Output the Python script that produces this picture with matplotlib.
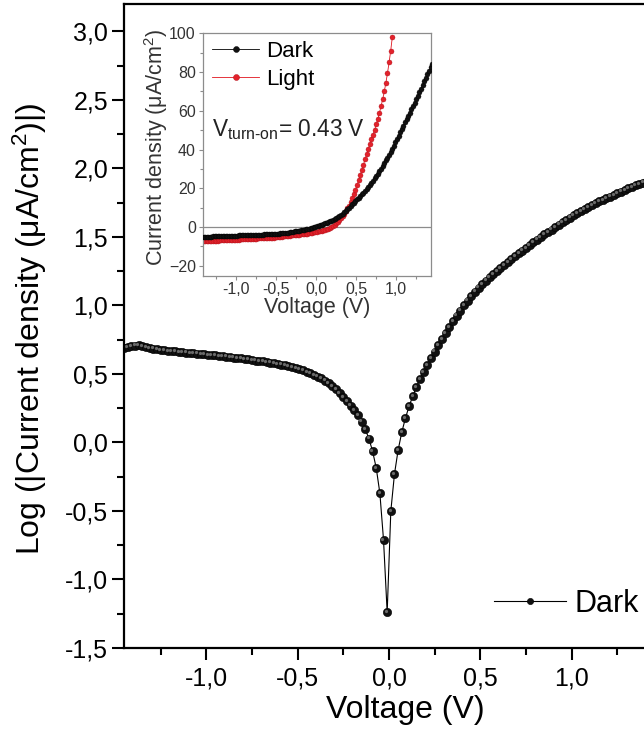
import matplotlib
matplotlib.use('Agg')
import matplotlib.pyplot as plt
import matplotlib.transforms as mtransforms
import numpy as np
from matplotlib.ticker import MultipleLocator, FuncFormatter

plt.rcParams['font.family'] = ['Liberation Sans', 'DejaVu Sans']
plt.rcParams['mathtext.fontset'] = 'custom'
plt.rcParams['mathtext.rm'] = 'Liberation Sans'
plt.rcParams['mathtext.it'] = 'Liberation Sans:italic'
plt.rcParams['mathtext.bf'] = 'Liberation Sans:bold'

# voltage sweep (V)
voltage = [
    -1.45, -1.43, -1.41, -1.39, -1.37, -1.35, -1.33, -1.31, -1.29, -1.27,
    -1.25, -1.23, -1.21, -1.19, -1.17, -1.15, -1.13, -1.11, -1.09, -1.07,
    -1.05, -1.03, -1.01, -0.99, -0.97, -0.95, -0.93, -0.91, -0.89, -0.87,
    -0.85, -0.83, -0.81, -0.79, -0.77, -0.75, -0.73, -0.71, -0.69, -0.67,
    -0.65, -0.63, -0.61, -0.59, -0.57, -0.55, -0.53, -0.51, -0.49, -0.47,
    -0.45, -0.43, -0.41, -0.39, -0.37, -0.35, -0.33, -0.31, -0.29, -0.27,
    -0.25, -0.23, -0.21, -0.19, -0.17, -0.15, -0.13, -0.11, -0.09, -0.07,
    -0.05, -0.03, -0.01,
    0.01, 0.03, 0.05, 0.07, 0.09, 0.11, 0.13, 0.15, 0.17, 0.19,
    0.21, 0.23, 0.25, 0.27, 0.29, 0.31, 0.33, 0.35, 0.37, 0.39,
    0.41, 0.43, 0.45, 0.47, 0.49, 0.51, 0.53, 0.55, 0.57, 0.59,
    0.61, 0.63, 0.65, 0.67, 0.69, 0.71, 0.73, 0.75, 0.77, 0.79,
    0.81, 0.83, 0.85, 0.87, 0.89, 0.91, 0.93, 0.95, 0.97, 0.99,
    1.01, 1.03, 1.05, 1.07, 1.09, 1.11, 1.13, 1.15, 1.17, 1.19,
    1.21, 1.23, 1.25, 1.27, 1.29, 1.31, 1.33, 1.35, 1.37, 1.39,
    1.41, 1.43, 1.45,
]

# log10(|J|) of the dark curve, J in uA/cm2
dark_log = [
    0.690, 0.697, 0.703, 0.707, 0.708, 0.705, 0.698, 0.690, 0.684, 0.679,
    0.675, 0.672, 0.669, 0.667, 0.664, 0.661, 0.658, 0.656, 0.653, 0.651,
    0.648, 0.646, 0.643, 0.640, 0.638, 0.635, 0.632, 0.629, 0.626, 0.623,
    0.620, 0.617, 0.613, 0.610, 0.606, 0.602, 0.598, 0.595, 0.591, 0.587,
    0.582, 0.578, 0.573, 0.568, 0.562, 0.556, 0.549, 0.542, 0.534, 0.526,
    0.516, 0.506, 0.494, 0.481, 0.467, 0.451, 0.432, 0.411, 0.387, 0.360,
    0.331, 0.300, 0.268, 0.234, 0.197, 0.153, 0.097, 0.028, -0.063, -0.185,
    -0.370, -0.710, -1.240,
    -0.500, -0.230, -0.055, 0.075, 0.178, 0.265, 0.338, 0.405, 0.465, 0.515,
    0.565, 0.615, 0.663, 0.710, 0.755, 0.800, 0.843, 0.885, 0.925, 0.963,
    1.000, 1.035, 1.068, 1.100, 1.130, 1.156, 1.181, 1.205, 1.228, 1.250,
    1.272, 1.294, 1.316, 1.338, 1.359, 1.380, 1.400, 1.420, 1.440, 1.460,
    1.480, 1.499, 1.518, 1.536, 1.554, 1.572, 1.590, 1.607, 1.624, 1.641,
    1.658, 1.674, 1.690, 1.705, 1.719, 1.733, 1.746, 1.759, 1.771, 1.783,
    1.795, 1.807, 1.819, 1.831, 1.843, 1.854, 1.865, 1.876, 1.887, 1.897,
    1.907, 1.916, 1.925,
]

# light curve current density (uA/cm2), same sweep up to 0.95 V
light_j = [
    -7.40, -7.36, -7.32, -7.28, -7.24, -7.20, -7.16, -7.12, -7.08, -7.04,
    -7.00, -6.96, -6.92, -6.88, -6.84, -6.80, -6.76, -6.72, -6.68, -6.64,
    -6.60, -6.56, -6.52, -6.48, -6.44, -6.40, -6.36, -6.32, -6.28, -6.24,
    -6.20, -6.15, -6.10, -6.05, -6.00, -5.95, -5.90, -5.85, -5.80, -5.75,
    -5.70, -5.65, -5.60, -5.55, -5.50, -5.45, -5.40, -5.35, -5.25, -5.15,
    -5.05, -4.95, -4.85, -4.75, -4.65, -4.55, -4.45, -4.35, -4.25, -4.15,
    -4.05, -3.95, -3.85, -3.75, -3.65, -3.55, -3.45, -3.35, -3.20, -3.05,
    -2.90, -2.75, -2.60, -2.40, -2.20, -2.00, -1.80, -1.60, -1.40, -1.10,
    -0.80, -0.40, 0.10, 0.70, 1.30, 2.00, 2.70, 3.60, 4.60, 5.70,
    6.90, 8.20, 9.60, 11.10, 12.80, 14.80, 17.00, 19.20, 21.60, 24.10,
    26.80, 29.50, 32.20, 34.90, 37.60, 40.20, 42.70, 45.20, 47.70, 50.30,
    53.00, 55.90, 59.00, 62.40, 66.00, 70.00, 74.50, 79.50, 85.00, 91.00,
    98.00,
]

v = np.array(voltage)
dark_log = np.array(dark_log)
# same dark data in linear scale for the inset
dark_j = np.sign(v) * 10 ** dark_log
v_light = v[:len(light_j)]


def comma_fmt(val, pos):
    if abs(val) < 1e-9:
        val = 0.0
    return f'{val:.1f}'.replace('.', ',')


fig = plt.figure(figsize=(6.44, 7.33), dpi=100)
fig.set_facecolor('white')

# main log plot (right spine falls just outside the picture)
ax = fig.add_axes([124 / 644, 85 / 733, 530 / 644, 644 / 733])
ax.plot(v, dark_log, color='black', lw=0.8, marker='o', ms=6.0, mfc='#111111',
        mec='black', mew=0.4, label='Dark')
# small highlight so the markers look like little balls
hl = mtransforms.offset_copy(ax.transData, fig=fig, x=-0.9, y=0.9, units='points')
ax.plot(v, dark_log, ls='none', marker='o', ms=1.3, color='#6a6a6a', transform=hl)

ax.set_xlim(-1.45, 1.45)
ax.set_ylim(-1.5, 3.2)
ax.xaxis.set_major_locator(MultipleLocator(0.5))
ax.xaxis.set_minor_locator(MultipleLocator(0.25))
ax.yaxis.set_major_locator(MultipleLocator(0.5))
ax.yaxis.set_minor_locator(MultipleLocator(0.25))
ax.xaxis.set_major_formatter(FuncFormatter(comma_fmt))
ax.yaxis.set_major_formatter(FuncFormatter(comma_fmt))
ax.tick_params(which='major', direction='out', length=8.5, width=1.5, labelsize=18)
ax.tick_params(which='minor', direction='out', length=5, width=1.5)
ax.tick_params(axis='x', which='major', pad=5)
ax.tick_params(axis='y', which='major', pad=3)
for sp in ax.spines.values():
    sp.set_linewidth(1.6)

ax.set_xlabel('Voltage (V)', fontsize=23)
ax.set_ylabel('Log (|Current density (μA/cm$^{2}$)|)', fontsize=23, va='center')
ax.xaxis.set_label_coords(0.530, -0.073)
ax.yaxis.set_label_coords(-0.177, 0.495)

ax.legend(loc='center left', bbox_to_anchor=(494 / 644, 1 - 604 / 733),
          bbox_transform=fig.transFigure, frameon=False, fontsize=22,
          handlelength=2.35, handletextpad=0.3, borderpad=0, borderaxespad=0,
          markerscale=0.75)

# inset: linear J-V, dark and light
axi = fig.add_axes([202.7 / 644, (733 - 275.5) / 733, 228 / 644, 242.2 / 733])
axi.axhline(0, color='#8c8c8c', lw=0.9, zorder=1)
axi.plot(v, dark_j, color='black', lw=0.6, marker='o', ms=3.6, mfc='#111111',
         mec='black', mew=0.3, label='Dark', zorder=3)
axi.plot(v_light, light_j, color='#e0141e', lw=0.6, marker='o', ms=3.6,
         mfc='#e3222b', mec='#b0101a', mew=0.3, label='Light', zorder=2)
axi.set_xlim(-1.42, 1.43)
axi.set_ylim(-25, 100)
axi.xaxis.set_major_locator(MultipleLocator(0.5))
axi.xaxis.set_minor_locator(MultipleLocator(0.25))
axi.yaxis.set_major_locator(MultipleLocator(20))
axi.yaxis.set_minor_locator(MultipleLocator(10))
axi.xaxis.set_major_formatter(FuncFormatter(comma_fmt))
axi.tick_params(which='major', direction='out', length=3, width=0.8, color='#8c8c8c',
                labelsize=11.5, labelcolor='#333333', pad=2)
axi.tick_params(which='minor', direction='out', length=2, width=0.8, color='#8c8c8c')
for sp in axi.spines.values():
    sp.set_color('#8c8c8c')
    sp.set_linewidth(0.9)
axi.set_xlabel('Voltage (V)', fontsize=15.5, color='#333333', labelpad=0)
axi.set_ylabel('Current density (μA/cm$^{2}$)', fontsize=15.5, color='#333333', va='center')
axi.yaxis.set_label_coords(-0.205, 0.53)

axi.legend(loc='upper left', bbox_to_anchor=(211.7 / 644, 1 - 41 / 733),
           bbox_transform=fig.transFigure, frameon=False, fontsize=16,
           handlelength=2.15, handletextpad=0.3, labelspacing=0.3,
           borderpad=0, borderaxespad=0, markerscale=1.2)
axi.text(0.04, 0.575, r'V$_{\text{turn-on}}$= 0.43 V', transform=axi.transAxes,
         fontsize=16.3, color='#222222', ha='left', va='baseline')

fig.savefig('out.png', dpi=100, facecolor='white')
